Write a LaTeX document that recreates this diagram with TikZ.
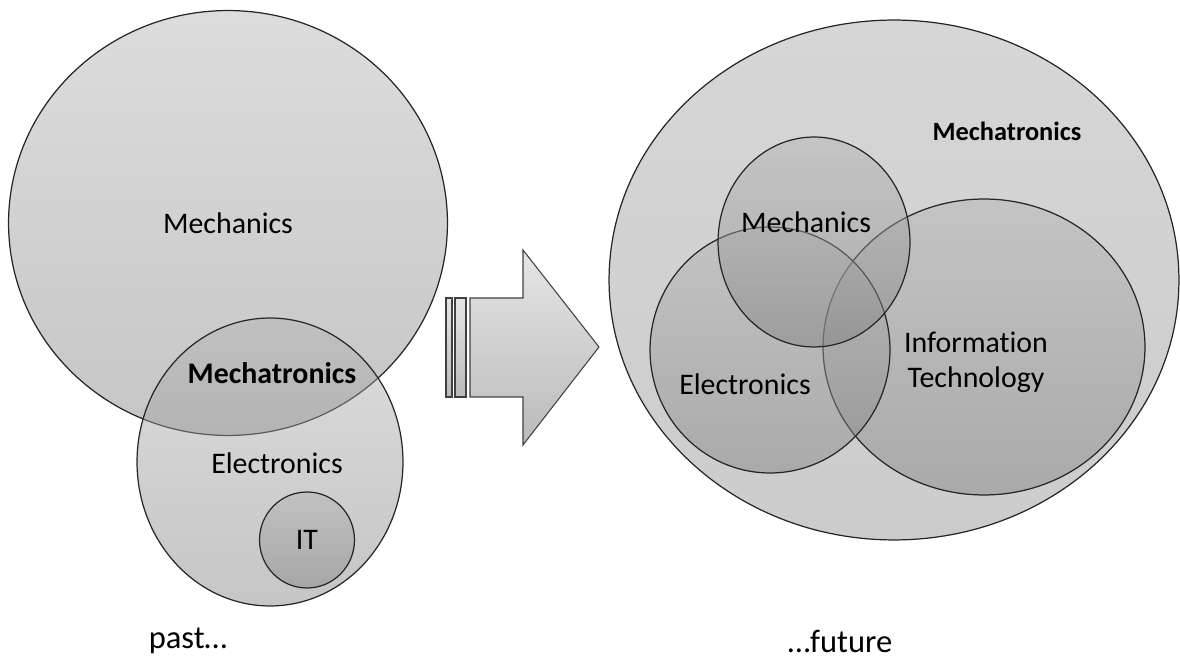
\documentclass[tikz,border=0pt]{standalone}
\usepackage{fontspec}
\setmainfont{Carlito}[Ligatures=NoCommon]
\usetikzlibrary{shapes.geometric}

\tikzset{
    blob/.style={ellipse, draw=black!85, line width=0.7pt, inner sep=0pt,
        top color=black!30, bottom color=black!50, fill opacity=0.45},
    outerblob/.style={ellipse, draw=black!85, line width=0.7pt, inner sep=0pt,
        top color=black!16, bottom color=black!20},
    arrowpart/.style={draw=black!75, line width=0.6pt, top color=black!10, bottom color=black!27},
    lbl/.style={font=\fontsize{17}{20}\selectfont, text=black, align=center},
}

\begin{document}
\begin{tikzpicture}[x=0.02cm, y=-0.02cm]
        \useasboundingbox (0,0) rectangle (1180,671);

        % past
        \node[blob, minimum width=8.78cm, minimum height=8.5cm] (mechL) at (228,223) {};
        \node[blob, minimum width=5.32cm, minimum height=5.76cm] (elecL) at (270,462) {};
        \node[blob, minimum width=1.9cm, minimum height=1.92cm] (itL) at (307,540) {};

        \node[lbl] (mechLtxt) at (228,223) {Mechanics};
        \node[lbl, font=\fontsize{17}{20}\selectfont\bfseries] (mtrLtxt) at (272,373) {Mechatronics};
        \node[lbl] (elecLtxt) at (277,463) {Electronics};
        \node[lbl] (itLtxt) at (307,540) {IT};
        \node[lbl, font=\fontsize{18.5}{22}\selectfont] (past) at (188,641) {past…};

        % arrow
        \draw[arrowpart] (446,298) rectangle (452,397);
        \draw[arrowpart] (455,298) rectangle (466,397);
        \draw[arrowpart] (470,298) -- (523,298) -- (523,250) -- (599,347) -- (523,445) -- (523,397) -- (470,397) -- cycle;

        % future
        \node[outerblob, minimum width=11.4cm, minimum height=10.4cm] (mtrR) at (894,280) {};
        \node[blob, minimum width=6.44cm, minimum height=5.92cm] (itR) at (984,347) {};
        \node[blob, minimum width=4.8cm, minimum height=4.92cm] (elecR) at (770,350) {};
        \node[blob, minimum width=3.84cm, minimum height=4.2cm] (mechR) at (814,242) {};

        \node[lbl, font=\fontsize{15}{18}\selectfont\bfseries] (mtrRtxt) at (1007,131) {Mechatronics};
        \node[lbl] (mechRtxt) at (806,222) {Mechanics};
        \node[lbl] (elecRtxt) at (745,384) {Electronics};
        \node[lbl, font=\fontsize{17}{20}\selectfont] (itRtxt) at (976,362) {Information\\Technology};
        \node[lbl, font=\fontsize{18.5}{22}\selectfont] (future) at (840,641) {…future};
\end{tikzpicture}
\end{document}
